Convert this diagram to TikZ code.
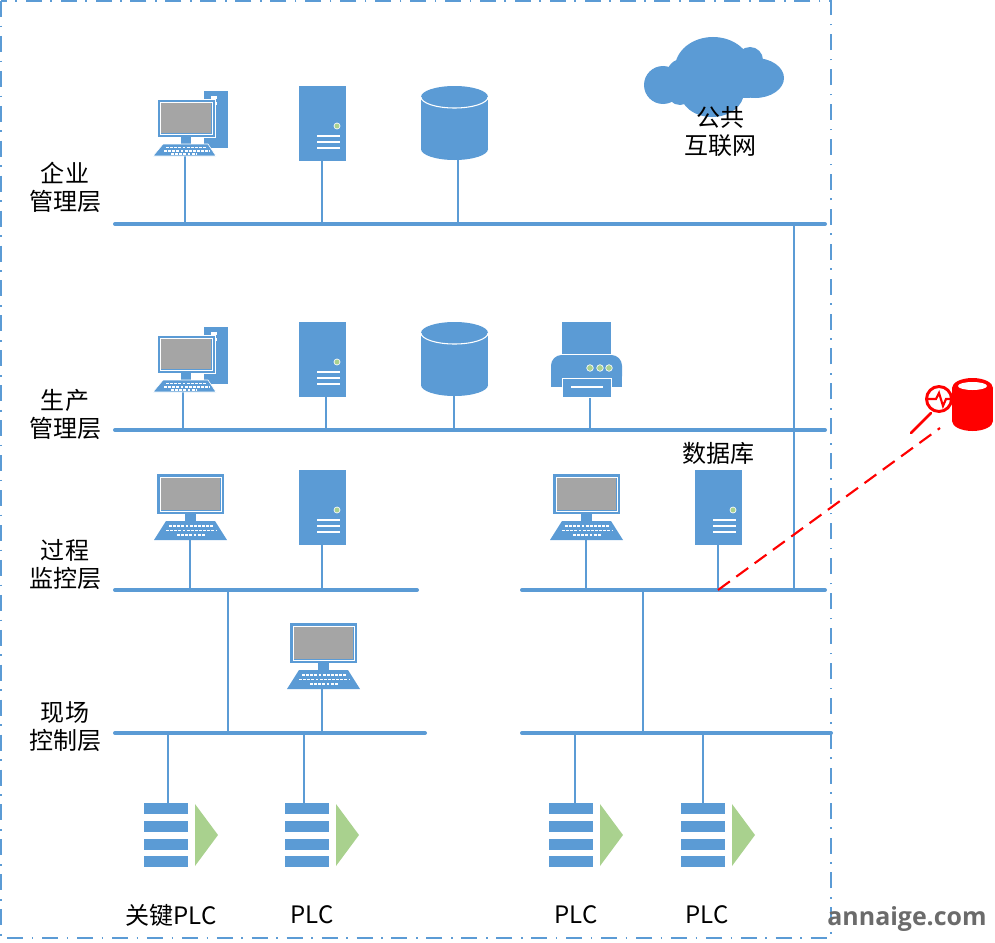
\documentclass[tikz,border=0pt]{standalone}
\usepackage{fontspec}
\setmainfont{Noto Sans CJK SC}
\newfontfamily\wmfont{Open Sans}
\definecolor{bl}{HTML}{5B9BD5}
\definecolor{gy}{HTML}{A5A5A5}
\definecolor{gn}{HTML}{A9D18E}
\tikzset{
 x=0.75pt,y=-0.75pt,
 frameline/.style={draw=bl,line width=1.1pt,dash pattern=on 12pt off 6.5pt on 1.2pt off 6.5pt},
 busline/.style={draw=bl,line width=3pt,line cap=round},
 stemline/.style={draw=bl,line width=2pt},
 lbl/.style={font=\fontsize{18}{21}\selectfont,align=center,inner sep=0pt,text=black},
 keyrow/.style={white,line width=1.3pt,dash pattern=on 2.2pt off 0.9pt},
 pcMon/.pic={
  \fill[bl] (0,0) rectangle (67,40);
  \draw[white,line width=0.7pt] (3,3) rectangle (64,37);
  \fill[gy] (4,4) rectangle (63,36);
  \fill[bl] (28,40) rectangle (39,47);
  \fill[bl] (9,47) -- (58,47) -- (70,66) -- (-3,66) -- cycle;
  \draw[keyrow] (12,52) -- (56,52);
  \draw[keyrow] (9,56.5) -- (59,56.5);
  \draw[keyrow] (20,61) -- (48,61);
 },
 pcTow/.pic={
  \fill[bl] (47,-8) rectangle (71,49);
  \fill[white] (54,-3) rectangle (60,0);
  \fill[white] (54,3) rectangle (60,6);
  \fill[bl,draw=white,line width=0.6pt] (0,0) rectangle (58,38);
  \draw[white,line width=0.7pt] (3,3) rectangle (55,35);
  \fill[gy] (4,4) rectangle (54,34);
  \fill[bl] (24,38) rectangle (34,45);
  \fill[bl,draw=white,line width=0.5pt] (6,45) -- (51,45) -- (59,57) -- (-4,57) -- cycle;
  \draw[keyrow] (9,48.5) -- (50,48.5);
  \draw[keyrow] (7,52) -- (53,52);
  \draw[keyrow] (14,55) -- (40,55);
 },
 srv/.pic={
  \fill[bl] (0,0) rectangle (47,75);
  \fill[gn,draw=white,line width=0.5pt] (38,40) circle[radius=3];
  \foreach \yy in {50,56,62}{\draw[white,line width=0.9pt] (18,\yy) -- (41,\yy);}
 },
 cyl/.pic={
  \fill[bl] (0,11) rectangle (67,63);
  \fill[bl] (33.5,63) circle[x radius=33.5,y radius=11];
  \fill[bl] (33.5,11) circle[x radius=33.5,y radius=11];
  \draw[white,line width=0.8pt] (0,11) arc[start angle=180,end angle=0,x radius=33.5,y radius=11];
 },
 prn/.pic={
  \fill[bl] (11,0) rectangle (60,32);
  \fill[bl,rounded corners=8pt] (0,65) -- (0,33) -- (71,33) -- (71,65) -- cycle;
  \fill[bl] (0,50) rectangle (71,65);
  \fill[bl,draw=white,line width=0.7pt] (11,56) rectangle (60,75);
  \draw[white,line width=0.8pt] (20,65) -- (52,65);
  \foreach \xx in {39,49,58}{\fill[gn,draw=white,line width=0.5pt] (\xx,46) circle[radius=3.3];}
 },
 plc/.pic={
  \foreach \yy in {0,18,36,53}{\fill[bl] (0,\yy) rectangle (44,\yy+10.5);}
  \fill[gn] (51,1) -- (74,32) -- (51,63) -- cycle;
 },
}
\begin{document}
\begin{tikzpicture}
\useasboundingbox (0,0) rectangle (995,942);
% frame
\draw[frameline] (1,1) rectangle (831,938);

% buses
\coordinate (b1l) at (115,224); \coordinate (b1r) at (825,224);
\coordinate (b2l) at (115,430); \coordinate (b2r) at (825,430);
\coordinate (b3l) at (115,590); \coordinate (b3m) at (417,590);
\coordinate (b3n) at (522,590); \coordinate (b3r) at (825,590);
\coordinate (b4l) at (115,733); \coordinate (b4m) at (425,733);
\coordinate (b4n) at (522,733); \coordinate (b4r) at (831,733);

% stem anchors
\coordinate (pc1) at (185,156);
\coordinate (sv1) at (322,161);
\coordinate (db1) at (458,160);
\coordinate (pc2) at (183,392);
\coordinate (sv2) at (326,396);
\coordinate (db2) at (454,396);
\coordinate (pr2) at (590,396);
\coordinate (pc3) at (190,540);
\coordinate (sv3) at (322,544);
\coordinate (pc4) at (586,540);
\coordinate (sv4) at (718,544);
\coordinate (pc5) at (322,689);
\coordinate (pl1) at (168,803);
\coordinate (pl2) at (304,803);
\coordinate (pl3) at (575,803);
\coordinate (pl4) at (703,803);
\coordinate (upA) at (794,224);
\coordinate (dnA) at (794,590);
\coordinate (upB) at (228,590);
\coordinate (dnB) at (228,733);
\coordinate (upC) at (643,590);
\coordinate (dnC) at (643,733);

\foreach \a/\b in {pc1/b1l,sv1/b1l,db1/b1l,pc2/b2l,sv2/b2l,db2/b2l,pr2/b2l,pc3/b3l,sv3/b3l,pc4/b3l,sv4/b3l,pc5/b4l,pl1/b4l,pl2/b4l,pl3/b4l,pl4/b4l}
  {\draw[stemline] (\a) -- (\a |- \b);}
\draw[stemline] (upA) -- (dnA);
\draw[stemline] (upB) -- (dnB);
\draw[stemline] (upC) -- (dnC);

\draw[busline] (b1l) -- (b1r);
\draw[busline] (b2l) -- (b2r);
\draw[busline] (b3l) -- (b3m);
\draw[busline] (b3n) -- (b3r);
\draw[busline] (b4l) -- (b4m);
\draw[busline] (b4n) -- (b4r);

% icons
\pic at (157,99) {pcTow};
\pic at (157,335) {pcTow};
\pic at (299,86) {srv};
\pic at (299,322) {srv};
\pic at (299,470) {srv};
\pic at (695,470) {srv};
\pic at (421,86) {cyl};
\pic at (421,322) {cyl};
\pic at (551,322) {prn};
\pic at (157,474) {pcMon};
\pic at (553,474) {pcMon};
\pic at (290,623) {pcMon};
\pic at (144,803) {plc};
\pic at (285,803) {plc};
\pic at (549,803) {plc};
\pic at (681,803) {plc};

% cloud
\fill[bl] (663,85) circle[x radius=19,y radius=19];
\fill[bl] (682,74) circle[radius=15];
\fill[bl] (680,92) circle[radius=13];
\fill[bl] (713,68) circle[x radius=38,y radius=31];
\fill[bl] (750,60) circle[radius=13];
\fill[bl] (755,78) circle[x radius=29,y radius=20];
\fill[bl] (712,92) circle[x radius=32,y radius=25];
\fill[bl] (690,70) rectangle (750,98);

% labels
\node[lbl] (t1) at (65,187) {企业\\管理层};
\node[lbl] (t2) at (65,414) {生产\\管理层};
\node[lbl] (t3) at (65,565) {过程\\监控层};
\node[lbl] (t4) at (65,727) {现场\\控制层};
\node[lbl] (t5) at (720,132) {公共\\互联网};
\node[lbl] (t6) at (718,453) {数据库};
\node[lbl] (t7) at (171,915) {关键PLC};
\node[lbl] (t8) at (312,915) {PLC};
\node[lbl] (t9) at (576,915) {PLC};
\node[lbl] (t10) at (707,915) {PLC};

% red part
\coordinate (rs) at (718,590);
\coordinate (re) at (940,428);
\coordinate (ha) at (911,433);
\coordinate (hb) at (931,413);
\draw[red,line width=1.6pt,dash pattern=on 11pt off 6pt] (rs) -- (re);
\draw[red,line width=2pt,line cap=round] (ha) -- (hb);
\fill[red] (952,388) rectangle (993,421);
\fill[red] (972.5,421) circle[x radius=20.5,y radius=10];
\fill[red] (972.5,388) circle[x radius=20.5,y radius=10];
\fill[white] (972.5,386) circle[x radius=14.5,y radius=4];
\filldraw[fill=white,draw=red,line width=2.2pt] (939,399) circle[radius=12.5];
\draw[red,line width=1.6pt] (926,399) -- (936,399) -- (939,393) -- (943,406) -- (946,399) -- (952,399);

% watermark
\node[inner sep=0pt,text=black!58,font=\wmfont\bfseries\fontsize{18.7}{22}\selectfont] (wm) at (907,919) {annaige.com};
\end{tikzpicture}
\end{document}
